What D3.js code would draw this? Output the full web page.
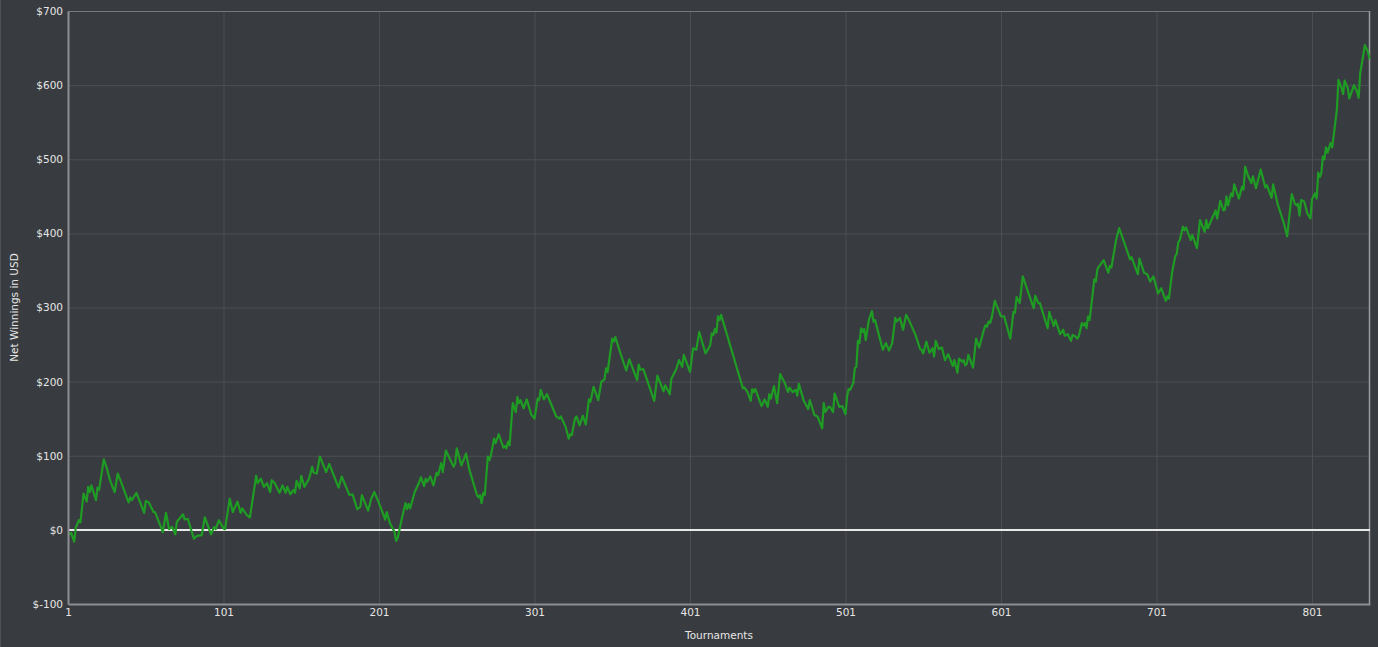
<!DOCTYPE html>
<html>
<head>
<meta charset="utf-8">
<script src="https://cdn.jsdelivr.net/npm/d3@7/dist/d3.min.js"></script>
<style>
  html, body { margin: 0; padding: 0; background: #383b3f; }
  svg { display: block; }
  text { font-family: "DejaVu Sans", Verdana, sans-serif; }
</style>
</head>
<body>
<svg id="chart" width="1378" height="647"></svg>
<script>
// ---- data ----
const tournaments = [
  1,3,5,6,8,9,11,13,14,15,16,19,20,21,24,26,28,31,33,35,40,41,42,45,50,51,53,56,57,62,64,66,68,70,71,75,76,78,82,84,87,89,93,95,96,98,101,102,105,107,110,112,113,116,118,122,123,125,127,129,131,132,134,137,
  139,141,142,144,146,147,148,150,151,153,156,158,159,161,163,167,169,175,177,182,184,187,189,190,194,196,198,201,205,206,208,211,212,213,216,218,219,220,221,224,227,228,230,231,232,234,236,238,239,241,242,244,249,250,251,254,257,259,264,265,266,
  267,268,269,271,272,273,275,276,278,281,282,283,284,285,287,289,290,291,292,294,296,299,300,301,303,304,305,307,309,315,317,318,321,323,324,325,327,328,330,332,334,336,337,339,342,344,346,347,348,351,352,353,356,360,362,367,368,369,371,378,380,384,385,388,389,392,394,396,397,401,403,405,407,
  409,411,414,415,416,417,418,419,420,421,435,436,438,440,441,442,443,447,449,451,452,453,455,457,459,462,464,465,467,469,470,471,474,477,478,481,483,486,487,488,490,491,493,494,497,499,501,502,503,504,506,507,508,509,510,511,512,513,514,516,518,519,520,525,527,529,531,533,534,536,538,540,542,
  546,549,550,551,553,555,557,558,559,561,563,565,567,570,571,573,574,576,577,578,579,580,583,585,587,590,591,592,593,594,595,597,601,603,607,609,610,611,613,615,622,623,625,626,631,632,635,636,639,641,642,644,646,647,649,650,651,653,654,655,656,657,658,661,662,663,664,
  667,670,671,672,675,677,684,685,689,690,693,695,697,699,702,704,707,708,709,711,713,714,715,716,718,719,720,723,724,727,729,732,733,734,739,740,742,744,745,746,747,749,750,751,754,756,757,758,760,762,763,765,768,771,772,775,776,779,783,785,
  788,790,791,792,793,794,796,798,800,801,803,804,805,806,807,808,809,810,811,813,814,815,817,818,820,821,822,824,825,828,830,831,832,834,835,837,838
];
const netWinnings = [
  -7,-4,-16,3,13,10,49,38,58,51,60,40,57,54,95,83,67,51,76,65,37,44,40,50,23,39,37,24,24,-3,23,1,4,-6,11,21,14,15,-12,-8,-7,17,-6,4,1,13,2,1,42,24,38,23,29,20,17,73,63,69,58,63,51,67,63,50,
  60,50,58,48,54,50,66,56,73,58,69,85,77,76,99,78,89,57,72,47,48,28,31,47,26,42,51,36,14,24,9,-3,-15,-11,18,36,28,35,29,51,65,71,59,69,65,72,60,77,74,90,78,107,85,90,110,87,103,82,47,44,47,
  36,50,47,99,94,101,123,117,129,111,113,110,119,114,171,159,179,171,175,164,176,155,153,150,177,175,189,176,183,153,150,153,139,123,129,128,150,153,141,154,142,176,173,193,175,200,203,218,213,258,254,260,240,215,230,202,223,216,217,174,208,187,195,183,204,216,229,220,236,213,245,243,267,
  252,238,249,265,263,271,266,288,283,290,191,192,186,174,190,186,190,167,176,166,183,177,194,171,210,198,186,192,186,189,181,197,175,163,175,155,153,137,171,159,166,166,159,184,166,167,156,180,190,189,198,218,220,255,252,272,267,271,256,283,295,281,283,243,252,242,252,286,281,286,270,290,282,
  263,244,243,238,254,239,245,234,255,244,246,229,237,221,229,212,231,227,229,222,224,236,219,258,246,270,276,274,281,279,286,309,288,288,258,294,293,314,306,342,299,316,306,306,272,294,275,283,264,270,262,264,255,263,261,258,261,279,276,279,272,288,283,338,335,352,355,
  364,347,356,354,391,407,365,368,345,366,347,345,335,342,319,326,309,315,312,347,369,372,388,391,409,404,408,391,398,380,418,402,418,407,431,420,444,431,432,450,438,454,450,466,447,463,459,490,477,468,477,461,486,462,465,448,466,439,413,396,
  453,440,438,440,424,445,443,427,420,446,454,447,482,476,481,504,500,516,509,522,516,533,567,607,596,588,606,596,582,600,591,583,616,641,654,645,635
];
const xTickValues = [1, 101, 201, 301, 401, 501, 601, 701, 801];
const yTickValues = [-100, 0, 100, 200, 300, 400, 500, 600, 700];
const xDomain = [1, 838.3];
const yDomain = [-100, 700];
const xTitle = "Tournaments";
const yTitle = "Net Winnings in USD";

// ---- drawing ----
const svg = d3.select("#chart");
const L = 68, R = 1370, T = 11, B = 604;
const x = d3.scaleLinear().domain(xDomain).range([L, R]);
const y = d3.scaleLinear().domain(yDomain).range([B, T]);
const data = tournaments.map((t, i) => ({ t, v: netWinnings[i] }));

svg.append("rect").attr("width", 1378).attr("height", 647).attr("fill", "#383b3f");
svg.append("line").attr("x1", 0.5).attr("x2", 0.5).attr("y1", 0).attr("y2", 647)
  .attr("stroke", "#4d5054").attr("stroke-width", 1);

// grid
const gy = svg.append("g").attr("transform", `translate(${L},0)`)
  .call(d3.axisLeft(y).tickValues(yTickValues.filter(d => d !== yDomain[0] && d !== yDomain[1] && d !== 0))
    .tickSize(-(R - L)).tickFormat(""));
gy.select(".domain").remove();
gy.selectAll("line").attr("stroke", "#4c4f53").attr("stroke-width", 1);

const gx = svg.append("g").attr("transform", `translate(0,${B})`)
  .call(d3.axisBottom(x).tickValues(xTickValues.filter(d => d !== xDomain[0]))
    .tickSize(-(B - T)).tickFormat(""));
gx.select(".domain").remove();
gx.selectAll("line").attr("stroke", "#4c4f53").attr("stroke-width", 1);

// frame
svg.append("line").attr("x1", L).attr("x2", R).attr("y1", T + 0.5).attr("y2", T + 0.5)
  .attr("stroke", "#75787c").attr("stroke-width", 1);
svg.append("line").attr("x1", R - 0.5).attr("x2", R - 0.5).attr("y1", T).attr("y2", B)
  .attr("stroke", "#9a9c9f").attr("stroke-width", 1.5);

// zero line
svg.append("line").attr("x1", L).attr("x2", R).attr("y1", y(0)).attr("y2", y(0))
  .attr("stroke", "#e8e8e8").attr("stroke-width", 2);

// series
svg.append("path").datum(data)
  .attr("fill", "none").attr("stroke", "#1f9c24").attr("stroke-width", 2.2)
  .attr("stroke-linejoin", "round")
  .attr("d", d3.line().x(d => x(d.t)).y(d => y(d.v)));

// axes
const ay = svg.append("g").attr("transform", `translate(${L},0)`)
  .call(d3.axisLeft(y).tickValues(yTickValues).tickFormat(d => "$" + d).tickSize(0).tickPadding(5));
ay.select(".domain").attr("stroke", "#8c8e91").attr("stroke-width", 2);
ay.selectAll("text").attr("fill", "#e6e6e6").style("font-size", "10.5px")
  .style("font-family", '"DejaVu Sans", Verdana, sans-serif');

const ax = svg.append("g").attr("transform", `translate(0,${B})`)
  .call(d3.axisBottom(x).tickValues(xTickValues).tickFormat(d => String(d)).tickSize(0).tickPadding(5));
ax.select(".domain").attr("stroke", "#8c8e91").attr("stroke-width", 2);
ax.selectAll("text").attr("fill", "#e6e6e6").style("font-size", "10.5px")
  .style("font-family", '"DejaVu Sans", Verdana, sans-serif');

// titles
svg.append("text").attr("x", (L + R) / 2).attr("y", 639).attr("text-anchor", "middle")
  .attr("fill", "#e6e6e6").style("font-size", "10.5px").text(xTitle);
svg.append("text").attr("transform", `translate(18,${(T + B) / 2}) rotate(-90)`)
  .attr("text-anchor", "middle").attr("fill", "#e6e6e6").style("font-size", "10.5px").text(yTitle);
</script>
</body>
</html>
